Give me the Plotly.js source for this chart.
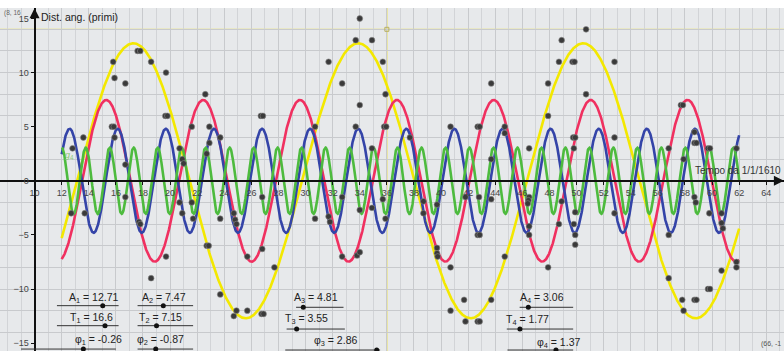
<!DOCTYPE html>
<html><head><meta charset="utf-8">
<script src="https://cdn.plot.ly/plotly-3.0.1.min.js"></script>
<style>html,body{margin:0;padding:0;background:#fff;}#chart{width:784px;height:351px;}</style>
</head><body><div id="chart"></div>
<script>
// Fitted sinusoid parameters (Jupiter's moons), f_i(t) = A_i cos(2πt/T_i + φ_i)
const amplitudes = [12.71, 7.47, 4.81, 3.06];
const periods = [16.6, 7.15, 3.55, 1.77];
const phases = [-0.26, -0.87, 2.86, 1.37];
const curveNames = ['f1', 'f2', 'f3', 'f4'];
const curveColors = ['#f3e800', '#f03060', '#3444a8', '#4dbb3e'];
const tStart = 12, tEnd = 62;

// Galileo's observations: time (days from 1/1/1610) and angular distance (arc minutes)
const obsT = [15.8,15.9,16.7,17.6,17.8,18.6,19.7,19.65,19.8,22.6,
  15.7,15.85,15.9,13.6,12.8,16.7,16.7,12.7,13.7,17.7,17.8,
  19.7,18.6,20.7,20.9,21.0,20.7,20.9,21.6,21.6,21.7,22.9,22.9,23.7,22.7,23.7,22.7,22.85,23.7,
  34.0,33.7,34.9,31.7,35.7,32.7,35.9,34.0,26.7,26.85,30.7,33.7,35.8,35.95,34.9,26.8,32.7,
  24.7,24.8,24.9,30.7,31.7,31.8,34.0,34.9,35.7,35.9,26.8,25.7,27.7,32.7,33.8,34.0,
  24.7,24.9,25.7,26.75,26.9,
  50.7,48.9,48.7,49.7,49.85,43.7,47.9,50.7,47.9,40.7,42.7,42.85,44.7,44.7,49.75,49.9,46.5,49.8,43.7,
  41.8,42.8,43.7,46.5,46.45,46.4,38.7,39.7,38.7,48.9,49.9,42.7,42.85,46.5,46.5,48.7,49.8,49.9,49.9,
  39.7,39.7,39.75,40.7,44.7,47.9,41.7,43.7,40.7,41.8,42.7,42.85,37.7,
  52.8,52.8,52.8,57.7,57.85,58.7,58.7,58.85,56.8,59.7,59.85,61.8,57.9,58.7,58.8,59.8,60.7,60.7,60.8,
  56.8,61.8,61.8,60.7,56.8,59.7,59.85,57.8,58.7,58.85,57.9];
const obsV = [11,9.5,9,12,12,11,10,6,6,8,
  5,5,4,4,3,1.5,-1.5,-3,-3,-3.8,-4,
  -7,-9,3,2,1.6,-2,-3,5,-2,-3.5,5,3.5,4,2.5,-3.5,-6,-6,-10.5,
  15,13,13,11,11,9,8,7,6,6,5,5,5,5,3,-1.5,-1.5,
  -3,-3.6,-4,-3.5,-3.3,-3.8,-2.7,-2.5,-1.7,-3.5,-6.3,-7,-8,-7,-6.9,-6.6,
  -12.5,-12,-12,-12.3,-12.3,
  14,13,11,11,11,9,9,8,6,5,5,5,5,4.4,4,4,3,3,2,
  -1.5,-1.5,-1.7,-1.5,-1.8,-2.1,-1.9,-2.2,-3,-1.9,-2.9,-5,-5,-4.2,-5,-4,-4,-5,-5.9,
  -6.2,-6.7,-7,-8,-7,-8,-11,-11,-12,-13,-13,-13,4,
  11,4,-3,7,7,4.5,3.5,3.5,3,3,3,3,2,-1.5,-2,-3,-3,-3.9,-4.4,
  -5,-7.5,-8,-8.3,-9,-10,-10,-11,-11,-11,-12];

const xTickVals = [10,12,14,16,18,20,22,24,26,28,30,32,34,36,38,40,42,44,46,48,50,52,54,56,58,60,62,64];
const yTickVals = [-15,-10,-5,0,5,10,15];
const xAxisLabel = 'Tempo da 1/1/1610';
const yAxisLabel = 'Dist. ang. (primi)';
const guideT = 36, guideV = 14;

// ---- build ----
const X_RANGE = [7.447, 65.31];
const Y_RANGE = [-15.73, 15.97];
const traces = [];
const step = 0.02;
for (let i = 0; i < amplitudes.length; i++) {
  const xs = [], ys = [];
  const n = Math.round((tEnd - tStart) / step);
  for (let k = 0; k <= n; k++) {
    const t = tStart + k * step;
    xs.push(t);
    ys.push(amplitudes[i] * Math.cos(2 * Math.PI * t / periods[i] + phases[i]));
  }
  traces.push({x: xs, y: ys, mode: 'lines', name: curveNames[i],
    line: {color: curveColors[i], width: 2.6}, hoverinfo: 'skip', showlegend: false});
}
traces.push({x: obsT, y: obsV, mode: 'markers', showlegend: false,
  marker: {color: '#3a3a3a', size: 5.8, line: {color: '#8a8a8a', width: 0.6}}});
traces.push({x: [guideT], y: [guideV], mode: 'markers', showlegend: false,
  marker: {symbol: 'square-open', color: '#b8b060', size: 4, line: {width: 1}}});
traces.push({x: [null], y: [null], yaxis: 'y2', mode: 'markers', showlegend: false, hoverinfo: 'skip'});

const shapes = [
  {type: 'line', xref: 'x', yref: 'paper', x0: guideT, x1: guideT, y0: 0, y1: 1,
   line: {color: '#ece25a', width: 1.2}, layer: 'below'},
  {type: 'line', xref: 'paper', yref: 'y', x0: 0, x1: 1, y0: guideV, y1: guideV,
   line: {color: '#ece25a', width: 1.2}, layer: 'below'}
];
const annotations = [];
const font = 'Liberation Sans, Arial, sans-serif';
// sliders: label, text centre (t,v), line (t0,t1,v), knob t
const sliders = [
  ['A<sub>1</sub> = ' + amplitudes[0], 14.38, -10.84, 11.65, 16.2, -11.54, 15.03],
  ['T<sub>1</sub> = ' + periods[0], 14.2, -12.71, 11.65, 16.2, -13.39, 15.2],
  ['φ<sub>1</sub> = ' + phases[0], 14.7, -14.72, 9.0, 16.0, -15.55, 13.6],
  ['A<sub>2</sub> = ' + amplitudes[1], 19.55, -10.84, 17.6, 21.7, -11.54, 19.5],
  ['T<sub>2</sub> = ' + periods[1], 19.3, -12.71, 17.6, 21.7, -13.39, 19.0],
  ['φ<sub>2</sub> = ' + phases[1], 19.3, -14.72, 17.6, 21.7, -15.55, 18.94],
  ['A<sub>3</sub> = ' + amplitudes[2], 30.8, -10.84, 29.3, 32.8, -11.69, 29.83],
  ['T<sub>3</sub> = ' + periods[2], 30.05, -12.77, 28.6, 32.9, -13.7, 29.34],
  ['φ<sub>3</sub> = ' + phases[2], 32.2, -14.8, 28.5, 35.5, -15.64, 35.25],
  ['A<sub>4</sub> = ' + amplitudes[3], 47.45, -10.84, 45.8, 49.75, -11.69, 46.44],
  ['T<sub>4</sub> = ' + periods[3], 46.35, -12.87, 44.85, 49.75, -13.7, 45.82],
  ['φ<sub>4</sub> = ' + phases[3], 48.7, -14.96, 44.9, 49.75, -15.64, 48.48]
];
sliders.forEach(s => {
  annotations.push({x: s[1], y: s[2], xref: 'x', yref: 'y', text: s[0], showarrow: false,
    font: {family: font, size: 10.5, color: '#222'}, xanchor: 'center', yanchor: 'middle'});
  shapes.push({type: 'line', xref: 'x', yref: 'y', x0: s[3], x1: s[4], y0: s[5], y1: s[5],
    line: {color: '#333', width: 1}});
  shapes.push({type: 'circle', xref: 'x', yref: 'y', xsizemode: 'pixel', ysizemode: 'pixel',
    xanchor: s[6], yanchor: s[5], x0: -2.5, x1: 2.5, y0: -2.5, y1: 2.5,
    fillcolor: '#111', line: {color: '#111', width: 0}});
});
annotations.push({x: 10.3, y: 15.17, xref: 'x', yref: 'y', text: yAxisLabel, showarrow: false,
  xanchor: 'left', yanchor: 'middle', font: {family: font, size: 10.5, color: '#222'}});
annotations.push({x: 0.002, y: 15.55, xref: 'paper', yref: 'y', text: '(8, 16', showarrow: false,
  xanchor: 'left', yanchor: 'middle', font: {family: font, size: 6.5, color: '#666'}});
annotations.push({x: 0.999, y: 0.3, xref: 'paper', yref: 'y', text: xAxisLabel, showarrow: false,
  xanchor: 'right', yanchor: 'bottom', font: {family: font, size: 10, color: '#333'}});
annotations.push({x: 0.999, y: -15.1, xref: 'paper', yref: 'y', text: '(66, -1', showarrow: false,
  xanchor: 'right', yanchor: 'middle', font: {family: font, size: 7, color: '#555'}});
annotations.push({x: 12.6, y: 2.3, xref: 'x', yref: 'y', text: '<i>g</i><sub>4</sub>', showarrow: false,
  xanchor: 'center', yanchor: 'middle', font: {family: font, size: 9, color: '#8cc97a'}});
// axis arrowheads
annotations.push({x: 10, y: 15.95, xref: 'x', yref: 'y', ax: 0, ay: 8, text: '', showarrow: true,
  arrowhead: 2, arrowsize: 1, arrowwidth: 2, arrowcolor: '#111'});
annotations.push({x: 65.3, y: 0, xref: 'x', yref: 'y', ax: -8, ay: 0, text: '', showarrow: true,
  arrowhead: 2, arrowsize: 1, arrowwidth: 2, arrowcolor: '#111'});

const layout = {
  width: 784, height: 351,
  margin: {l: 0, r: 0, t: 8, b: 0, pad: 0},
  paper_bgcolor: '#ffffff', plot_bgcolor: '#e7e9eb',
  showlegend: false,
  xaxis: {range: X_RANGE, tickmode: 'array', tickvals: xTickVals, showgrid: true,
    gridcolor: '#c8cacd', gridwidth: 1,
    minor: {dtick: 1, tick0: 0, showgrid: true, gridcolor: '#d2d4d7', gridwidth: 1, ticks: ''},
    zeroline: false, showline: true, linecolor: '#111', linewidth: 2,
    anchor: 'free', position: 0.4962, ticks: 'outside', ticklen: 3, tickcolor: '#111',
    tickfont: {family: font, size: 9, color: '#444'}, fixedrange: true},
  yaxis: {range: Y_RANGE, dtick: 2, tick0: 0, showgrid: true, gridcolor: '#c8cacd',
    showticklabels: false, ticks: '', zeroline: false, showline: false, fixedrange: true},
  yaxis2: {range: Y_RANGE, overlaying: 'y', tickmode: 'array', tickvals: yTickVals,
    anchor: 'free', position: 0.0441, side: 'left', showline: true, linecolor: '#111', linewidth: 2,
    ticks: 'outside', ticklen: 3, tickcolor: '#111', showgrid: false, zeroline: false,
    tickfont: {family: font, size: 9, color: '#444'}, fixedrange: true},
  shapes: shapes,
  annotations: annotations
};
Plotly.newPlot('chart', traces, layout, {displayModeBar: false, staticPlot: true});
</script>
</body></html>
